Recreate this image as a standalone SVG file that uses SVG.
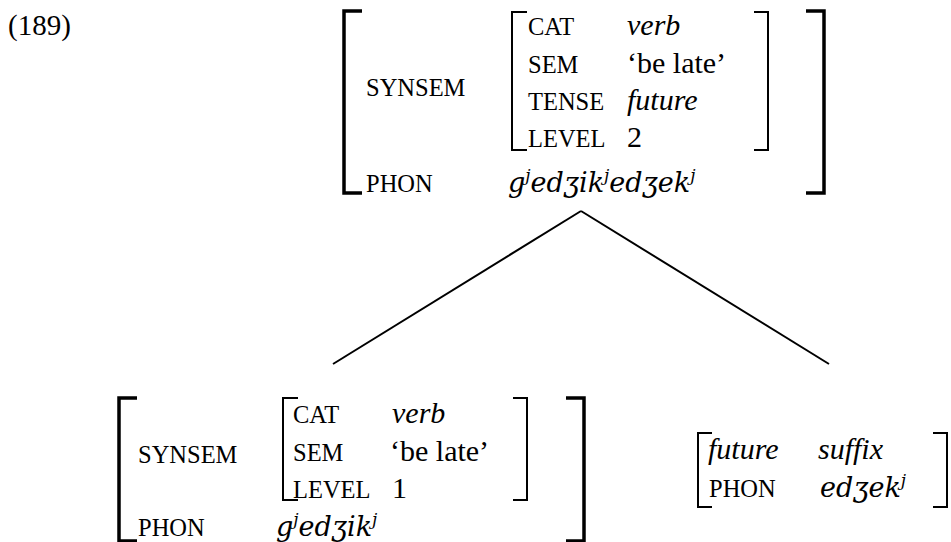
<svg xmlns="http://www.w3.org/2000/svg" width="951" height="542" viewBox="0 0 951 542" font-family="'Liberation Serif', 'Times New Roman', serif">
<style>
  text { font-family: "Liberation Serif", "Times New Roman", serif; fill: #000; }
  .lbl { font-size: 24.5px; }
  .val { font-size: 30px; }
  .it { font-style: italic; }
  .ph { font-family: "DejaVu Serif", "Liberation Serif", serif; font-style: italic; font-size: 27px; }
  .sup { font-size: 17px; }
  .bo { fill: none; stroke: #000; stroke-width: 3.5; }
  .bi { fill: none; stroke: #000; stroke-width: 2; }
  .edge { fill: none; stroke: #000; stroke-width: 2; }
</style>
<rect width="951" height="542" fill="#fff"/>
<text id="num" x="8" y="35" style="font-size:29px">(189)</text>

<g id="mother">
  <path class="bo" d="M362,11 H344 V193 H362"/>
  <path class="bo" d="M806,11 H824 V193 H806"/>
  <text class="lbl" x="366" y="96">SYNSEM</text>
  <text class="lbl" x="366" y="192">PHON</text>
  <path class="bi" d="M527,12 H512 V150 H527"/>
  <path class="bi" d="M754,12 H768 V150 H754"/>
  <text class="lbl" x="528" y="35">CAT</text>
  <text class="val it" x="627" y="35">verb</text>
  <text class="lbl" x="528" y="73">SEM</text>
  <text class="val" x="627" y="73">‘be late’</text>
  <text class="lbl" x="528" y="110">TENSE</text>
  <text class="val it" x="627" y="110">future</text>
  <text class="lbl" x="528" y="147">LEVEL</text>
  <text class="val" x="627" y="147">2</text>
  <text class="ph" x="508" y="192">g<tspan class="sup" dy="-11">j</tspan><tspan dy="11">edʒik</tspan><tspan class="sup" dy="-11">j</tspan><tspan dy="11">edʒek</tspan><tspan class="sup" dy="-11">j</tspan></text>
</g>

<g id="connectors">
  <line class="edge" x1="581" y1="211" x2="333" y2="364"/>
  <line class="edge" x1="581" y1="211" x2="829" y2="364"/>
</g>

<g id="stem">
  <path class="bo" d="M137,398 H119 V541 H137"/>
  <path class="bo" d="M566,398 H584 V541 H566"/>
  <text class="lbl" x="138" y="463">SYNSEM</text>
  <text class="lbl" x="138" y="536">PHON</text>
  <path class="bi" d="M298,398 H283 V500 H298"/>
  <path class="bi" d="M513,398 H527 V500 H513"/>
  <text class="lbl" x="293" y="423">CAT</text>
  <text class="val it" x="392" y="423">verb</text>
  <text class="lbl" x="293" y="461">SEM</text>
  <text class="val" x="390" y="461">‘be late’</text>
  <text class="lbl" x="293" y="498">LEVEL</text>
  <text class="val" x="392" y="498">1</text>
  <text class="ph" x="276" y="536">g<tspan class="sup" dy="-11">j</tspan><tspan dy="11">edʒik</tspan><tspan class="sup" dy="-11">j</tspan></text>
</g>

<g id="suffix">
  <path class="bi" d="M712,433 H698 V507 H712"/>
  <path class="bi" d="M933,433 H947 V507 H933"/>
  <text class="val it" x="708" y="459">future</text>
  <text class="val it" x="818" y="459">suffix</text>
  <text class="lbl" x="709" y="497">PHON</text>
  <text class="ph" x="820" y="497">edʒek<tspan class="sup" dy="-11">j</tspan></text>
</g>
</svg>
